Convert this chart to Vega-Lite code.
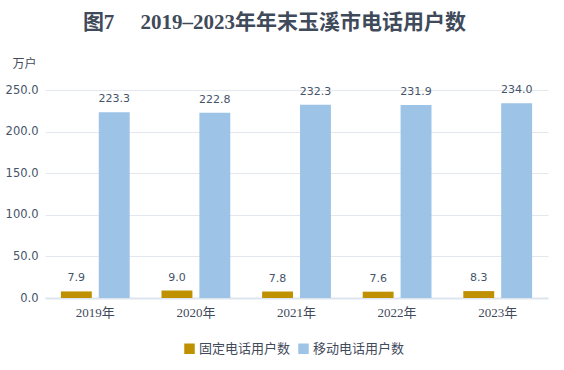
{
  "$schema": "https://vega.github.io/schema/vega-lite/v6.json",
  "autosize": "none",
  "width": 503,
  "height": 208,
  "padding": {"left": 45, "top": 90, "right": 16, "bottom": 72},
  "background": "white",
  "title": {
    "text": "图7\u00a0\u00a0\u00a0\u00a0\u00a02019–2023年年末玉溪市电话用户数",
    "font": "Liberation Serif, Noto Sans CJK SC",
    "fontSize": 21,
    "fontWeight": "bold",
    "color": "#3f4a5a",
    "anchor": "middle",
    "dx": -22,
    "offset": 24
  },
  "data": {
    "values": [
      {"year": "2019年", "type": "固定电话用户数", "value": 7.9},
      {"year": "2019年", "type": "移动电话用户数", "value": 223.3},
      {"year": "2020年", "type": "固定电话用户数", "value": 9.0},
      {"year": "2020年", "type": "移动电话用户数", "value": 222.8},
      {"year": "2021年", "type": "固定电话用户数", "value": 7.8},
      {"year": "2021年", "type": "移动电话用户数", "value": 232.3},
      {"year": "2022年", "type": "固定电话用户数", "value": 7.6},
      {"year": "2022年", "type": "移动电话用户数", "value": 231.9},
      {"year": "2023年", "type": "固定电话用户数", "value": 8.3},
      {"year": "2023年", "type": "移动电话用户数", "value": 234.0}
    ]
  },
  "encoding": {
    "x": {
      "field": "year", "type": "nominal",
      "scale": {"paddingInner": 0, "paddingOuter": 0},
      "axis": {
        "title": null, "labelAngle": 0, "ticks": false,
        "domain": true, "domainColor": "#dde5ef", "domainWidth": 2,
        "labelFont": "Liberation Serif, Noto Sans CJK SC", "labelFontSize": 13,
        "labelColor": "#3f4a5a", "labelPadding": 8
      }
    },
    "xOffset": {
      "field": "type", "type": "nominal",
      "scale": {"paddingInner": 0.184, "paddingOuter": 0.42}
    },
    "y": {
      "field": "value", "type": "quantitative",
      "scale": {"domain": [0, 250]},
      "axis": {
        "values": [0, 50, 100, 150, 200, 250],
        "format": ".1f",
        "title": "万户",
        "titleAngle": 0,
        "titleX": -21,
        "titleY": -27,
        "titleAlign": "center",
        "titleBaseline": "middle",
        "titleFont": "Noto Sans CJK SC",
        "titleFontSize": 12,
        "titleFontWeight": "normal",
        "titleColor": "#3f4a5a",
        "domain": false,
        "ticks": false,
        "labelFont": "DejaVu Sans",
        "labelFontSize": 11.5,
        "labelColor": "#44546a",
        "labelPadding": 7,
        "gridColor": "#e3e8ef",
        "gridWidth": 1
      }
    }
  },
  "layer": [
    {
      "mark": {"type": "bar"},
      "encoding": {
        "color": {
          "field": "type", "type": "nominal",
          "scale": {"domain": ["固定电话用户数", "移动电话用户数"], "range": ["#bf9000", "#9dc3e6"]},
          "legend": {
            "title": null, "orient": "none", "direction": "horizontal",
            "legendX": 138, "legendY": 252,
            "symbolType": "square", "symbolSize": 110, "symbolStrokeWidth": 0,
            "labelFont": "Noto Sans CJK SC", "labelFontSize": 13, "labelColor": "#3f4a5a",
            "columnPadding": 6, "labelOffset": 3
          }
        }
      }
    },
    {
      "mark": {"type": "text", "baseline": "bottom", "dy": -8, "font": "DejaVu Sans", "fontSize": 11, "color": "#44546a"},
      "encoding": {
        "text": {"field": "value", "type": "quantitative", "format": ".1f"}
      }
    }
  ],
  "config": {"view": {"stroke": null}}
}
